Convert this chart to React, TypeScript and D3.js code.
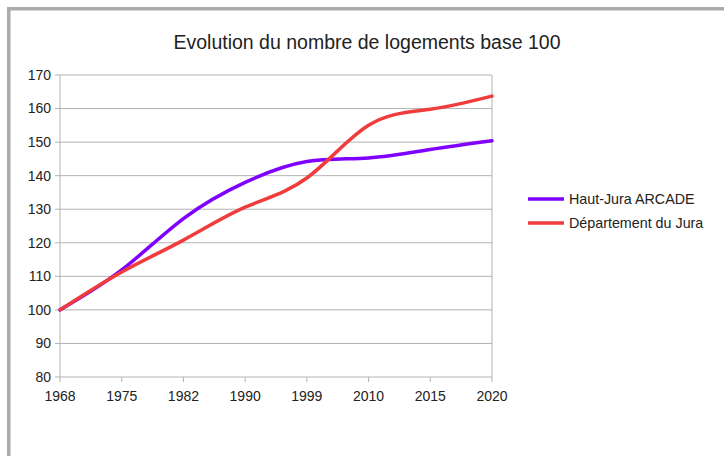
import React from "react";
import * as d3 from "d3";

const years = ["1968", "1975", "1982", "1990", "1999", "2010", "2015", "2020"];
const hautJura = [100, 111.9, 127.2, 138, 144.2, 145.3, 147.8, 150.4];
const departement = [100, 111.3, 120.8, 130.6, 139.3, 155, 159.8, 163.7];
const yTicks = [80, 90, 100, 110, 120, 130, 140, 150, 160, 170];
const seriesNames = ["Haut-Jura ARCADE", "Département du Jura"];
const seriesColors = ["#8000ff", "#f03c3c"];

const W = 724;
const H = 456;
const M = { left: 60, right: 492, top: 75, bottom: 377 };
const FONT = "'Liberation Sans', Arial, sans-serif";

export default function App() {
  const x = d3.scalePoint<string>().domain(years).range([M.left, M.right]);
  const y = d3.scaleLinear().domain([80, 170]).range([M.bottom, M.top]);
  const line = d3
    .line<number>()
    .x((_, i) => x(years[i]) as number)
    .y((d) => y(d))
    .curve(d3.curveNatural);
  const series = [hautJura, departement];

  return (
    <div style={{ position: "fixed", left: 0, top: 0, width: W, height: H, background: "#fff" }}>
      <svg width={W} height={H} style={{ display: "block" }} fontFamily={FONT}>
        <rect x={0} y={0} width={W} height={H} fill="#fff" />
        <path d={`M8.75,${H + 10} V8.75 H${W + 10}`} fill="none" stroke="#ababab" strokeWidth={3.5} />
        <text x={367} y={49} textAnchor="middle" fontSize={19.5} fill="#222">
          Evolution du nombre de logements base 100
        </text>
        {yTicks.map((t) => (
          <g key={t}>
            <line x1={M.left - 5} x2={M.right} y1={y(t)} y2={y(t)} stroke="#b3b3b3" strokeWidth={1} />
            <text x={M.left - 9} y={y(t)} dy="0.35em" textAnchor="end" fontSize={14} fill="#222">
              {t}
            </text>
          </g>
        ))}
        <line x1={M.left} x2={M.left} y1={M.top} y2={M.bottom} stroke="#b3b3b3" strokeWidth={1} />
        <line x1={M.right} x2={M.right} y1={M.top} y2={M.bottom} stroke="#b3b3b3" strokeWidth={1} />
        {years.map((yr) => (
          <g key={yr}>
            <line x1={x(yr)} x2={x(yr)} y1={M.bottom} y2={M.bottom + 5} stroke="#b3b3b3" strokeWidth={1} />
            <text x={x(yr)} y={M.bottom + 24} textAnchor="middle" fontSize={14} fill="#222">
              {yr}
            </text>
          </g>
        ))}
        {series.map((s, i) => (
          <path key={i} d={line(s) || ""} fill="none" stroke={seriesColors[i]} strokeWidth={3.5} strokeLinejoin="round" strokeLinecap="round" />
        ))}
        {seriesNames.map((n, i) => (
          <g key={n} transform={`translate(528, ${199 + i * 24})`}>
            <line x1={0} x2={36} y1={0} y2={0} stroke={seriesColors[i]} strokeWidth={3.5} />
            <text x={41} y={0} dy="0.35em" fontSize={14.3} fill="#222">
              {n}
            </text>
          </g>
        ))}
      </svg>
    </div>
  );
}
